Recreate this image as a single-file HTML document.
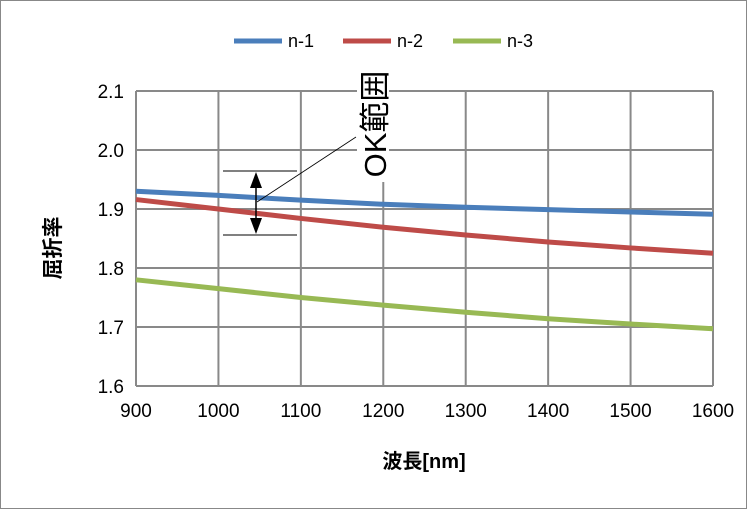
<!DOCTYPE html>
<html><head><meta charset="utf-8"><style>
body{margin:0;background:#fff;}
svg{display:block;font-family:"Liberation Sans","Noto Sans CJK JP",sans-serif;}
</style></head><body>
<svg id="chart" width="748" height="510">
<rect x="0.5" y="0.5" width="746" height="508" fill="#fff" stroke="#888"/>
<g id="grid"></g>
<g id="series"></g>
<g id="ticks" font-size="19" fill="#000"></g>
<text x="424" y="468" font-size="20" font-weight="bold" text-anchor="middle">波長[nm]</text>
<text transform="translate(60,248) rotate(-90)" font-size="21" font-weight="bold" text-anchor="middle">屈折率</text>
<g font-size="18">
<g><line x1="234" y1="41" x2="282" y2="41" stroke="#4a7ebb" stroke-width="5"/><text x="288" y="47">n-1</text></g>
<g><line x1="343" y1="41" x2="391" y2="41" stroke="#be4b48" stroke-width="5"/><text x="397" y="47">n-2</text></g>
<g><line x1="453" y1="41" x2="501" y2="41" stroke="#98b954" stroke-width="5"/><text x="507" y="47">n-3</text></g>
</g>
<g>
<line x1="223" y1="171" x2="297" y2="171" stroke="#000" stroke-width="1"/>
<line x1="223" y1="235" x2="297" y2="235" stroke="#000" stroke-width="1"/>
<line x1="256" y1="185" x2="256" y2="221" stroke="#000" stroke-width="1.5"/>
<polygon points="256,172 250,188 262,188" fill="#000"/>
<polygon points="256,234 250,218 262,218" fill="#000"/>
<line x1="257" y1="202" x2="356" y2="137" stroke="#000" stroke-width="0.8"/>
<rect x="357" y="66" width="32" height="116" fill="#fff"/>
<text transform="translate(386,124) rotate(-90)" font-size="31" text-anchor="middle">OK範囲</text>
</g>
</svg>
<script>
const xCats=[900,1000,1100,1200,1300,1400,1500,1600];
const n1=[1.930,1.923,1.915,1.908,1.903,1.899,1.895,1.891];
const n2=[1.916,1.900,1.884,1.869,1.856,1.844,1.834,1.825];
const n3=[1.780,1.765,1.750,1.737,1.725,1.714,1.705,1.697];
const yTicks=[1.6,1.7,1.8,1.9,2.0,2.1];
const NS="http://www.w3.org/2000/svg";
const X=v=>136+(v-900)/700*577;
const Y=v=>386-(v-1.6)/0.5*295;
const grid=document.getElementById('grid'),ticks=document.getElementById('ticks'),ser=document.getElementById('series');
function mk(tag,attrs,parent){const e=document.createElementNS(NS,tag);for(const k in attrs)e.setAttribute(k,attrs[k]);parent.appendChild(e);return e;}
yTicks.forEach(t=>{
 const l=mk('line',{x1:136,x2:713,y1:Y(t),y2:Y(t),stroke:'#898989','stroke-width':2},grid);
 
 
 const tx=mk('text',{x:124,y:Y(t)+7,'text-anchor':'end'},ticks);
 
 
 tx.textContent=t.toFixed(1);
});
xCats.forEach(c=>{
 const l=mk('line',{x1:X(c),x2:X(c),y1:91,y2:386,stroke:'#898989','stroke-width':2},grid);
 
 
 const tx=mk('text',{x:X(c),y:417,'text-anchor':'middle'},ticks);
 
 
 tx.textContent=c;
});
[[n1,'#4a7ebb','series-n1'],[n2,'#be4b48','series-n2'],[n3,'#98b954','series-n3']].forEach(([d,c,n])=>{
 const p=mk('polyline',{points:d.map((v,i)=>X(xCats[i])+','+Y(v)).join(' '),fill:'none',stroke:c,'stroke-width':5},ser);
 
 
});
</script>
</body></html>
